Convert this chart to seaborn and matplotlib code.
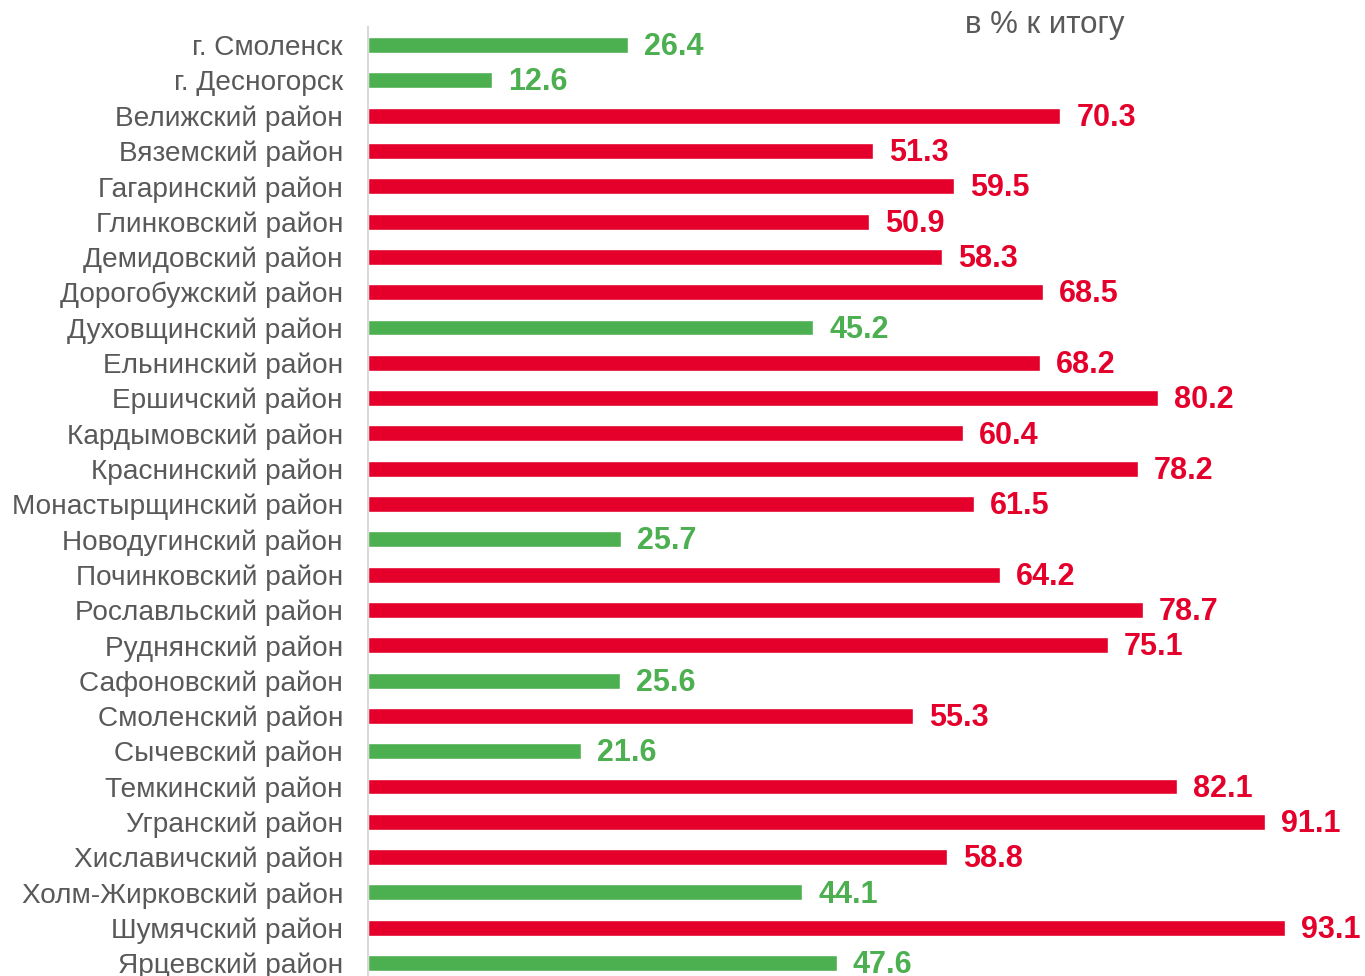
import matplotlib
matplotlib.use("Agg")
import matplotlib.pyplot as plt
import pandas as pd
import seaborn as sns

districts = [
    "г. Смоленск", "г. Десногорск", "Велижский район", "Вяземский район",
    "Гагаринский район", "Глинковский район", "Демидовский район",
    "Дорогобужский район", "Духовщинский район", "Ельнинский район",
    "Ершичский район", "Кардымовский район", "Краснинский район",
    "Монастырщинский район", "Новодугинский район", "Починковский район",
    "Рославльский район", "Руднянский район", "Сафоновский район",
    "Смоленский район", "Сычевский район", "Темкинский район",
    "Угранский район", "Хиславичский район", "Холм-Жирковский район",
    "Шумячский район", "Ярцевский район",
]
shares = [
    26.4, 12.6, 70.3, 51.3, 59.5, 50.9, 58.3, 68.5, 45.2, 68.2, 80.2, 60.4,
    78.2, 61.5, 25.7, 64.2, 78.7, 75.1, 25.6, 55.3, 21.6, 82.1, 91.1, 58.8,
    44.1, 93.1, 47.6,
]

GREEN = "#4CAF50"
RED = "#E4002B"
GRAY = "#595959"

df = pd.DataFrame({"district": districts, "share": shares})
df["group"] = ["low" if v < 50 else "high" for v in df["share"]]
palette = {"low": GREEN, "high": RED}

sns.set_style("white")
plt.rcParams["font.family"] = ["Liberation Sans", "DejaVu Sans"]

fig = plt.figure(figsize=(13.65, 9.76), dpi=100)
ax = fig.add_axes([368 / 1365, -0.0048, (1353 - 368) / 1365, 0.9767])

sns.barplot(data=df, x="share", y="district", hue="group", palette=palette,
            dodge=False, width=0.45, legend=False, ax=ax, saturation=1)

# value labels at bar ends
for i, v in enumerate(df["share"]):
    ax.annotate(f"{v:.1f}", xy=(v, i), xytext=(11.5, -1.5), textcoords="offset points",
                ha="left", va="center", fontsize=22, fontweight="bold",
                color=palette[df["group"][i]])

ax.set_xlim(0, 100)
ax.set_ylim(len(districts) - 0.5, -0.5)
ax.set_xlabel("")
ax.set_ylabel("")
ax.set_xticks([])
ax.tick_params(axis="y", length=0, pad=18, labelsize=20.2, labelcolor=GRAY)
for s in ["top", "right", "bottom"]:
    ax.spines[s].set_visible(False)
ax.spines["left"].set_color("#D9D9D9")
ax.spines["left"].set_linewidth(1.5)

fig.text(965 / 1365, 1 - 25 / 976, "в % к итогу", ha="left", va="center",
         fontsize=22.5, color=GRAY)

fig.savefig("out.png", dpi=100)
